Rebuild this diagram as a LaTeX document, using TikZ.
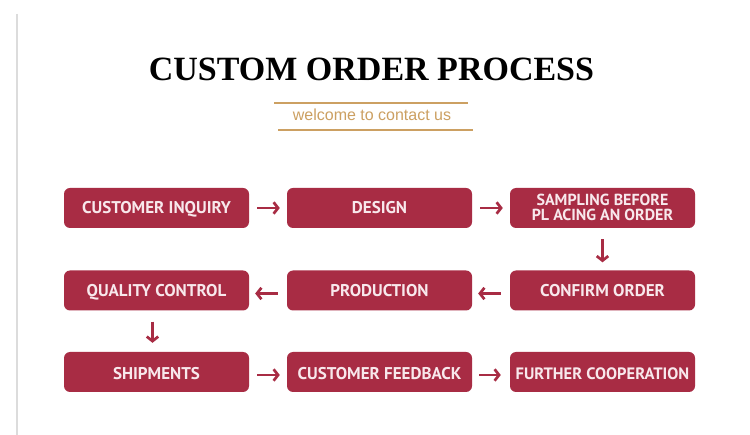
\documentclass[tikz,border=0pt]{standalone}
\usepackage{fontspec}
\setmainfont{Liberation Serif}
\newfontfamily\boxfont{PT Sans}
\newfontfamily\subfont{Liberation Sans}
\usetikzlibrary{arrows.meta}
\definecolor{boxred}{RGB}{168,44,68}
\definecolor{boxtext}{RGB}{248,232,236}
\definecolor{gold}{RGB}{204,160,98}
\definecolor{rulegray}{RGB}{220,220,220}

\begin{document}
\begin{tikzpicture}[x=1pt,y=-1pt,
  stepbox/.style={fill=boxred,rounded corners=6pt,minimum width=185pt,minimum height=40pt,
    inner sep=0pt,text=boxtext,align=center,text height=12pt,text depth=0pt,
    font=\boxfont\bfseries\fontsize{17}{17}\selectfont},
  flow/.style={draw=boxred,line width=2.7pt,-{Straight Barb[length=4.5pt,width=11.5pt]}}]

% page and frame line:
\useasboundingbox[fill=white] (0,0) rectangle (750,435);
\draw[rulegray,line width=1.2pt] (17,14) -- (17,435);

% heading:
\node[font=\bfseries\fontsize{34}{34}\selectfont,anchor=base] (title) at (371.5,81) {CUSTOM ORDER PROCESS};
\node[font=\subfont\fontsize{16}{16}\selectfont,text=gold,anchor=base] (welcome) at (372,121) {welcome to contact us};
\draw[gold,line width=1.2pt] (274,103) -- (468,103);
\draw[gold,line width=1.2pt] (278,130) -- (473,130);

% steps, row by row:
\node[stepbox] (inquiry) at (156.5,208) {CUSTOMER INQUIRY};
\node[stepbox] (design) at (379.5,208) {DESIGN};
\node[stepbox,text height=26pt,text depth=0pt,font=\boxfont\bfseries\fontsize{16}{15}\selectfont] (sampling) at (602.5,208) {SAMPLING BEFORE\\PL ACING AN ORDER};
\node[stepbox] (confirm) at (602.5,290.5) {CONFIRM ORDER};
\node[stepbox] (production) at (379.5,290.5) {PRODUCTION};
\node[stepbox] (quality) at (156.5,290.5) {QUALITY CONTROL};
\node[stepbox,text height=16pt] (shipments) at (156.5,372) {SHIPMENTS};
\node[stepbox,text height=16pt] (feedback) at (379.5,372) {CUSTOMER FEEDBACK};
\node[stepbox,text height=16pt,font=\boxfont\bfseries\fontsize{16.5}{17}\selectfont] (further) at (602.5,372) {FURTHER COOPERATION};

% arrows:
\draw[flow,shorten <=8pt,shorten >=7pt] (inquiry.east) -- (design.west);
\draw[flow,shorten <=8pt,shorten >=7pt] (design.east) -- (sampling.west);
\draw[flow,shorten <=11pt,shorten >=8pt] (sampling.south) -- (confirm.north);
\draw[flow,shorten <=9pt,shorten >=6pt] ([yshift=-3pt]confirm.west) -- ([yshift=-3pt]production.east);
\draw[flow,shorten <=9pt,shorten >=6pt] ([yshift=-3pt]production.west) -- ([yshift=-3pt]quality.east);
\draw[flow,shorten <=11pt,shorten >=9pt] ([xshift=-4pt]quality.south) -- ([xshift=-4pt]shipments.north);
\draw[flow,shorten <=8pt,shorten >=7pt] ([yshift=-3pt]shipments.east) -- ([yshift=-3pt]feedback.west);
\draw[flow,shorten <=7pt,shorten >=9pt] ([yshift=-3pt]feedback.east) -- ([yshift=-3pt]further.west);

\end{tikzpicture}
\end{document}
